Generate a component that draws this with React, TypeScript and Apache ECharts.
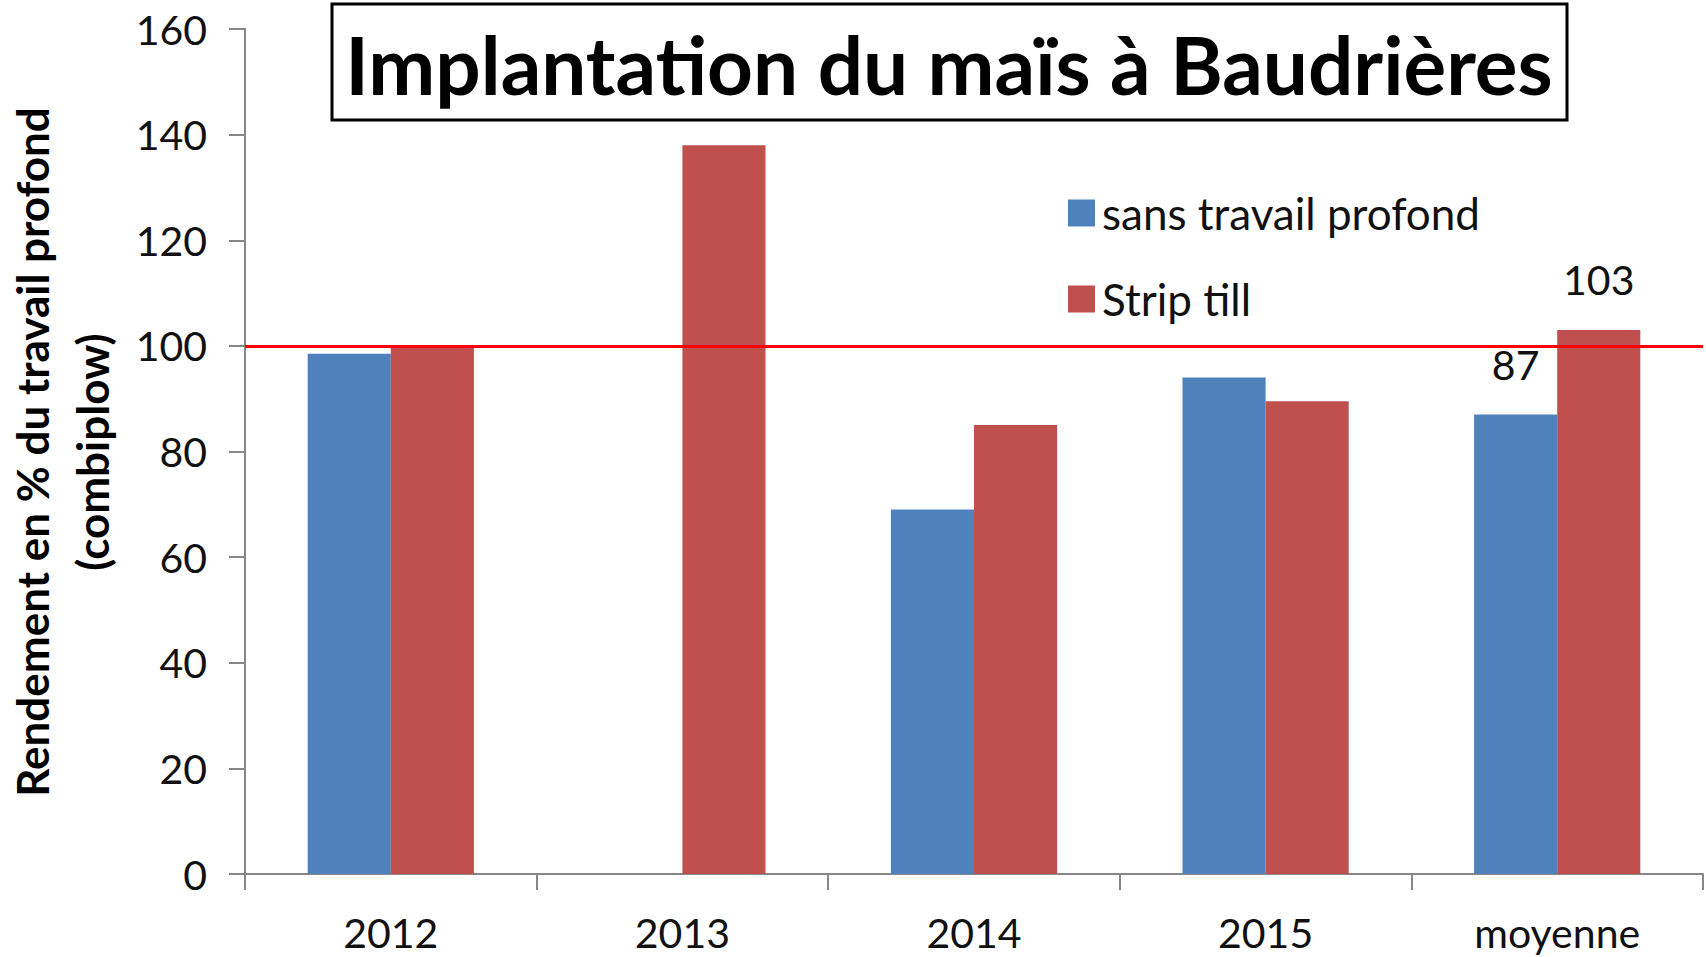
import React, { useEffect, useRef } from "react";
import * as echarts from "echarts";

const categories = ["2012", "2013", "2014", "2015", "moyenne"];
const sansTravail: (number | null)[] = [98.5, null, 69, 94, 87];
const stripTill: number[] = [100, 138, 85, 89.5, 103];
const yTicks = { min: 0, max: 160, interval: 20 };
const referenceLevel = 100;
const titleText = "Implantation du maïs à Baudrières";
const yAxisTitle = "Rendement en % du travail profond\n(combiplow)";
const seriesNames = ["sans travail profond", "Strip till"];
const labelledCategory = "moyenne";

const FONT = "Lato, 'Open Sans', sans-serif";

export default function App() {
  const ref = useRef<HTMLDivElement>(null);
  useEffect(() => {
    if (!ref.current) return;
    const chart = echarts.init(ref.current, null, { renderer: "svg" });
    const mkData = (arr: (number | null)[]) =>
      arr.map((v, i) =>
        categories[i] === labelledCategory
          ? { value: v, label: { show: true } }
          : v === null
          ? "-"
          : v
      );
    const labelStyle = {
      show: false,
      position: "top",
      distance: 30,
      color: "#111",
      fontFamily: FONT,
      fontSize: 41,
    };
    chart.setOption({
      animation: false,
      textStyle: { fontFamily: FONT },
      grid: { left: 245, right: 3, top: 29, bottom: 83, containLabel: false },
      legend: {
        orient: "vertical",
        left: 1063,
        top: 186,
        itemWidth: 27,
        itemHeight: 27,
        itemGap: 42,
        icon: "rect",
        textStyle: { fontSize: 44, color: "#111", fontFamily: FONT, padding: [0, 0, 0, 2] },
        data: seriesNames,
      },
      xAxis: {
        type: "category",
        data: categories,
        axisLine: { lineStyle: { color: "#878787", width: 2 } },
        axisTick: { show: true, length: 16, lineStyle: { color: "#878787", width: 2 } },
        axisLabel: { fontSize: 41, color: "#111", margin: 38, fontFamily: FONT },
      },
      yAxis: {
        type: "value",
        min: yTicks.min,
        max: yTicks.max,
        interval: yTicks.interval,
        splitLine: { show: false },
        axisLine: { show: true, lineStyle: { color: "#878787", width: 2 } },
        axisTick: { show: true, length: 16, lineStyle: { color: "#878787", width: 2 } },
        axisLabel: { fontSize: 41, color: "#111", margin: 38, fontFamily: FONT },
      },
      series: [
        {
          name: seriesNames[0],
          type: "bar",
          data: mkData(sansTravail),
          itemStyle: { color: "#4F81BD" },
          barGap: "0%",
          barCategoryGap: "43%",
          label: labelStyle,
        },
        {
          name: seriesNames[1],
          type: "bar",
          data: mkData(stripTill),
          itemStyle: { color: "#C0504D" },
          barGap: "0%",
          barCategoryGap: "43%",
          label: labelStyle,
          markLine: {
            silent: true,
            symbol: "none",
            label: { show: false },
            lineStyle: { color: "#FF0000", width: 3, type: "solid" },
            data: [{ yAxis: referenceLevel }],
          },
        },
      ],
      graphic: [
        {
          type: "rect",
          shape: { x: 332, y: 4, width: 1235, height: 116 },
          style: { fill: "#fff", stroke: "#000", lineWidth: 3 },
          z: 10,
        },
        {
          type: "text",
          x: 949,
          y: 64,
          style: {
            text: titleText,
            align: "center",
            verticalAlign: "middle",
            font: `bold 80px ${FONT}`,
            fill: "#000",
          },
          z: 11,
        },
        {
          type: "text",
          x: 62,
          y: 452,
          rotation: Math.PI / 2,
          style: {
            text: yAxisTitle,
            align: "center",
            verticalAlign: "middle",
            font: `bold 44px ${FONT}`,
            lineHeight: 60,
            fill: "#000",
          },
        },
      ],
    });
    return () => chart.dispose();
  }, []);
  return (
    <div
      ref={ref}
      style={{ position: "fixed", left: 0, top: 0, width: 1706, height: 957, background: "#fff" }}
    />
  );
}
